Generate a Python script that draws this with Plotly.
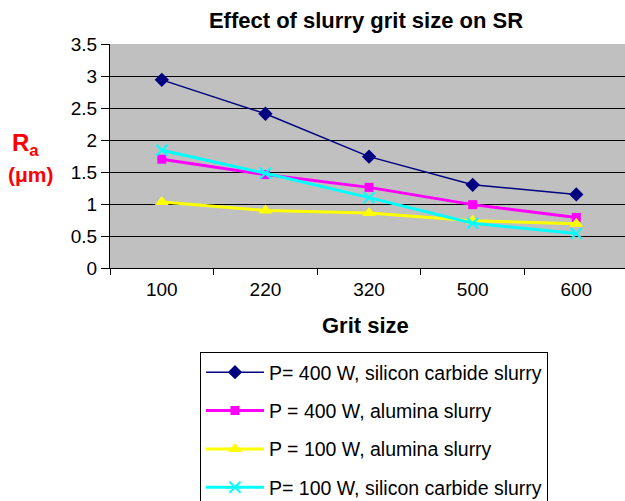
import plotly.graph_objects as go

grit_sizes = ["100", "220", "320", "500", "600"]
sic_400 = [2.94, 2.41, 1.74, 1.30, 1.15]
alu_400 = [1.70, 1.46, 1.26, 0.99, 0.79]
alu_100 = [1.03, 0.90, 0.86, 0.74, 0.69]
sic_100 = [1.84, 1.48, 1.10, 0.70, 0.54]

series_names = [
    "P= 400 W, silicon carbide slurry",
    "P = 400 W, alumina slurry",
    "P = 100 W, alumina slurry",
    "P= 100 W, silicon carbide slurry",
]
y_ticks = [0, 0.5, 1, 1.5, 2, 2.5, 3, 3.5]

FONT = "Liberation Sans, Arial, sans-serif"

styles = [
    dict(color="#000080", width=1.5, symbol="diamond", size=11),
    dict(color="#FF00FF", width=3, symbol="square", size=9),
    dict(color="#FFFF00", width=3, symbol="triangle-up", size=12),
    dict(color="#00FFFF", width=3, symbol="x-thin-open", size=11),
]

fig = go.Figure()
for i, (name, vals) in enumerate(zip(series_names, [sic_400, alu_400, alu_100, sic_100])):
    st = styles[i]
    marker = dict(symbol=st["symbol"], size=st["size"], color=st["color"])
    if st["symbol"] == "x-thin-open":
        marker["line"] = dict(color=st["color"], width=2)
    fig.add_trace(go.Scatter(
        x=grit_sizes, y=vals, name=name, mode="lines+markers",
        line=dict(color=st["color"], width=st["width"]),
        marker=marker, legendgroup=f"g{i}",
    ))

fig.update_layout(
    width=625, height=501,
    margin=dict(l=110, r=0, t=44, b=233, autoexpand=False),
    paper_bgcolor="white",
    plot_bgcolor="#C0C0C0",
    font=dict(family=FONT, size=19, color="black"),
    title=dict(text="<b>Effect of slurry grit size on SR</b>", x=366 / 625, xanchor="center",
               y=0.96, yanchor="middle", font=dict(size=22, family=FONT)),
    showlegend=True,
    legend=dict(
        x=(200 - 110) / 515, y=(268 - 352) / 224, xanchor="left", yanchor="top",
        bgcolor="white", bordercolor="black", borderwidth=1,
        font=dict(size=19.5, family=FONT), tracegroupgap=10,
        itemwidth=58,
    ),
    xaxis=dict(
        type="category", range=[-0.5, 4.47],
        showgrid=False, showline=True, linecolor="black", linewidth=1,
        ticks="outside", tickson="boundaries", ticklen=6, tickcolor="black",
        tickfont=dict(size=19), ticklabelstandoff=4,
    ),
    yaxis=dict(
        range=[0, 3.5], tickvals=y_ticks, ticktext=[f"{v:g}" for v in y_ticks],
        showgrid=True, gridcolor="black", gridwidth=1,
        showline=True, linecolor="black", linewidth=1,
        ticks="outside", ticklen=8, tickcolor="black",
        tickfont=dict(size=19), zeroline=False,
    ),
    annotations=[
        dict(text="<b>Grit size</b>", xref="paper", yref="paper",
             x=(365 - 110) / 515, y=(268 - 325) / 224, xanchor="center", yanchor="middle",
             showarrow=False, font=dict(size=22, family=FONT)),
        dict(text="<b>R<sub>a</sub></b>", xref="paper", yref="paper",
             x=(10 - 110) / 515, y=(268 - 144) / 224, xanchor="left", yanchor="middle",
             showarrow=False, font=dict(size=24, color="#FF0000", family=FONT)),
        dict(text="<b>(μm)</b>", xref="paper", yref="paper",
             x=(6 - 110) / 515, y=(268 - 174) / 224, xanchor="left", yanchor="middle",
             showarrow=False, font=dict(size=21, color="#FF0000", family=FONT)),
    ],
)

fig.write_html("out.html")
